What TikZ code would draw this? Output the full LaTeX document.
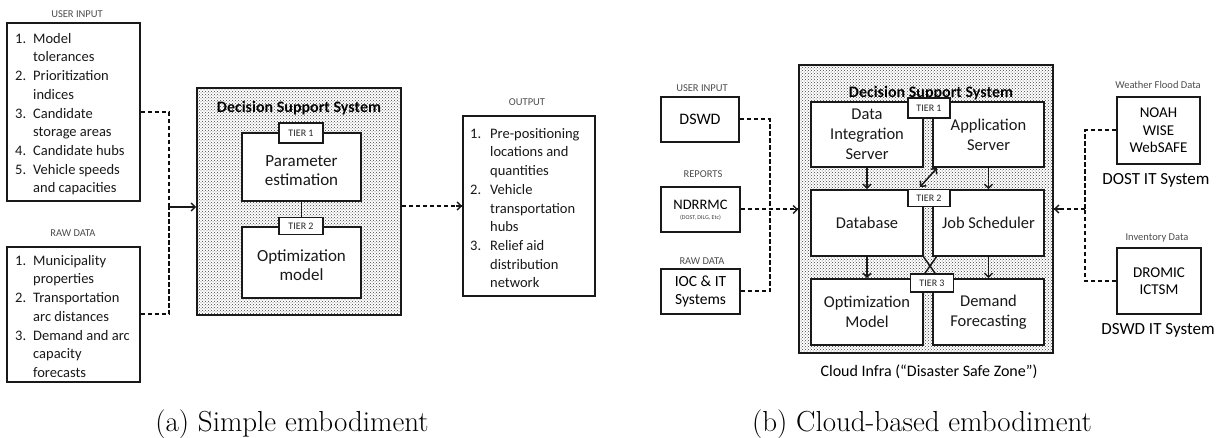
\documentclass[tikz,border=0pt]{standalone}
\usepackage{fontspec}
\newfontfamily\calfont{Carlito}
\usetikzlibrary{arrows.meta,patterns}
\newcommand\itm[2]{\makebox[18pt][l]{#1}#2}
\newcommand\cnt[1]{\hspace*{18pt}#1}
\newcommand\itmo[2]{\makebox[20pt][l]{#1}#2}
\newcommand\cnto[1]{\hspace*{20pt}#1}
\tikzset{
  box/.style={draw=black!90, line width=1.7pt, fill=white, inner sep=0pt},
  dssbox/.style={draw=black!90, line width=1.7pt, pattern=crosshatch dots, pattern color=black!75, inner sep=0pt},
  tierbox/.style={draw=black!90, line width=1.5pt, fill=white, inner sep=0pt, font=\calfont\fontsize{10}{12}\selectfont, text=black!85},
  lab/.style={font=\calfont\fontsize{10.5}{12}\selectfont, text=black!70, inner sep=0pt},
  listtxt/.style={font=\calfont\fontsize{14.5}{18.7}\selectfont, align=left, inner sep=0pt, text=black!90},
  midtxt/.style={font=\calfont\fontsize{17}{19}\selectfont, align=center, inner sep=0pt, text=black!90},
  boxtxt/.style={font=\calfont\fontsize{16.5}{20}\selectfont, align=center, text=black!90},
  dashline/.style={draw=black!95, line width=2pt, dash pattern=on 4.5pt off 2.5pt},
  arr/.style={draw=black!90, line width=1.5pt, -{Straight Barb[length=4pt,width=8pt,line width=1.5pt]}},
  dbarr/.style={draw=black!90, line width=1.5pt, {Straight Barb[length=4pt,width=8pt,line width=1.5pt]}-{Straight Barb[length=4pt,width=8pt,line width=1.5pt]}},
  xline/.style={draw=black!90, line width=1.5pt},
  captxt/.style={font=\fontsize{29}{33}\selectfont, inner sep=0pt, anchor=base}
}
\begin{document}
\begin{tikzpicture}[x=1pt,y=-1pt]
\useasboundingbox (0,0) rectangle (1218,438);
% ================= (a) =================
\node[lab] (lblUI) at (77,14) {USER INPUT};
\node[box, minimum width=133, minimum height=178] (ui) at (73.5,112) {};
\node[listtxt, anchor=north west] (uit) at (15,33) {\itm{1.}{Model}\\\cnt{tolerances}\\\itm{2.}{Prioritization}\\\cnt{indices}\\\itm{3.}{Candidate}\\\cnt{storage areas}\\\itm{4.}{Candidate hubs}\\\itm{5.}{Vehicle speeds}\\\cnt{and capacities}};
\node[lab] (lblRaw) at (73,233) {RAW DATA};
\node[box, minimum width=133, minimum height=135] (raw) at (73.5,314.5) {};
\node[listtxt, anchor=north west] (rawt) at (15,255) {\itm{1.}{Municipality}\\\cnt{properties}\\\itm{2.}{Transportation}\\\cnt{arc distances}\\\itm{3.}{Demand and arc}\\\cnt{capacity}\\\cnt{forecasts}};
\coordinate (jA) at (169,207);
\node[dssbox, minimum width=204, minimum height=227] (dssA) at (299,201.5) {};
\node[font=\calfont\bfseries\fontsize{16}{18}\selectfont, inner sep=0pt] (titA) at (299,108) {Decision Support System};
\node[box, minimum width=119, minimum height=68] (t1a) at (301.5,167) {};
\node[box, minimum width=119, minimum height=71] (t2a) at (301.5,262.5) {};
\node[midtxt] (t1at) at (301.5,171) {Parameter\\estimation};
\node[midtxt] (t2at) at (301.5,265) {Optimization\\model};
\draw[arr] (t1a.south) -- (t2a.north);
\node[tierbox, minimum width=44, minimum height=20] (tier1a) at (301,133) {TIER 1};
\node[tierbox, minimum width=44, minimum height=17] (tier2a) at (301,226) {TIER 2};
\draw[dashline] (ui.east) -| (jA);
\draw[dashline] (raw.east) -| (jA);
\draw[arr] (jA) -- (dssA.west |- jA);
\node[lab] (lblOut) at (527,102) {OUTPUT};
\node[box, minimum width=132, minimum height=180] (out) at (529,206) {};
\node[listtxt, anchor=north west] (outt) at (470,128) {\itmo{1.}{Pre-positioning}\\\cnto{locations and}\\\cnto{quantities}\\\itmo{2.}{Vehicle}\\\cnto{transportation}\\\cnto{hubs}\\\itmo{3.}{Relief aid}\\\cnto{distribution}\\\cnto{network}};
\draw[dashline] (dssA.east |- out.west) -- (out.west);
\draw[arr] ([xshift=-6pt]out.west) -- (out.west);
% ================= (b) =================
\node[lab] (lblUI2) at (702,88) {USER INPUT};
\node[box, minimum width=78, minimum height=45, font=\calfont\fontsize{16}{18}\selectfont] (dswd) at (700,119.5) {DSWD};
\node[lab] (lblRep) at (703,174) {REPORTS};
\node[box, minimum width=79, minimum height=45] (nd) at (700.5,209.5) {};
\node[font=\calfont\fontsize{14.5}{16}\selectfont, inner sep=0pt] (ndt) at (700.5,205) {NDRRMC};
\node[font=\calfont\fontsize{6}{7}\selectfont, inner sep=0pt, text=black!75] (ndt2) at (700.5,217.5) {(DOST, DILG, Etc)};
\node[lab] (lblRaw2) at (702,261) {RAW DATA};
\node[box, minimum width=79, minimum height=45, align=center, font=\calfont\fontsize{15.5}{18}\selectfont] (ioc) at (700.5,291.5) {IOC \& IT\\Systems};
\coordinate (jB) at (770,209);
\node[dssbox, minimum width=254, minimum height=288] (dssB) at (926,209) {};
\node[font=\calfont\bfseries\fontsize{16}{18}\selectfont, inner sep=0pt] (titB) at (931,93) {Decision Support System};
\node[box, boxtxt, minimum width=112, minimum height=65] (dis) at (867,134.5) {Data\\Integration\\Server};
\node[box, boxtxt, minimum width=111, minimum height=65] (app) at (988.5,134.5) {\raisebox{-3pt}{Application}\\\raisebox{-3pt}{Server}};
\node[box, boxtxt, minimum width=112, minimum height=66] (db) at (867,223) {\raisebox{-3pt}{Database}};
\node[box, boxtxt, minimum width=111, minimum height=66] (js) at (988.5,223) {\raisebox{-3pt}{Job Scheduler}};
\node[box, boxtxt, minimum width=112, minimum height=66] (opt) at (867,312) {\raisebox{-2pt}{Optimization}\\\raisebox{-2pt}{Model}};
\node[box, boxtxt, minimum width=111, minimum height=66] (dem) at (988.5,312) {\raisebox{-2pt}{Demand}\\\raisebox{-2pt}{Forecasting}};
\draw[arr] (dis.south) -- (db.north);
\draw[arr] (app.south) -- (js.north);
\draw[arr] (db.south) -- (opt.north);
\draw[arr] (js.south) -- (dem.north);
\coordinate (d1) at (920,187);
\coordinate (d2) at (937,168);
\draw[dbarr] (d1) -- (d2);
\coordinate (x1) at (923,256);
\coordinate (x2) at (937,276);
\coordinate (x3) at (937,256);
\coordinate (x4) at (923,276);
\draw[xline] (x1) -- (x2);
\draw[xline] (x3) -- (x4);
\node[tierbox, minimum width=42, minimum height=20] (tier1b) at (929,108) {TIER 1};
\node[tierbox, minimum width=42, minimum height=17] (tier2b) at (929,198) {TIER 2};
\node[tierbox, minimum width=43, minimum height=18] (tier3b) at (932,283) {TIER 3};
\node[font=\calfont\fontsize{16}{18}\selectfont, inner sep=0pt] (cloud) at (929,372) {Cloud Infra (“Disaster Safe Zone”)};
\draw[dashline] (dswd.east) -| (jB);
\draw[dashline] (ioc.east) -| (jB);
\draw[dashline] (nd.east) -- (dssB.west |- nd.east);
\draw[arr] ([xshift=-6pt]dssB.west |- nd.east) -- (dssB.west |- nd.east);
\node[lab] (lblW) at (1158,85) {Weather Flood Data};
\node[box, minimum width=83, minimum height=67, align=center, font=\calfont\fontsize{15}{17.5}\selectfont] (noah) at (1158.5,130.5) {NOAH\\WISE\\WebSAFE};
\node[font=\calfont\fontsize{17}{19}\selectfont, inner sep=0pt] (dost) at (1156,180) {DOST IT System};
\node[lab] (lblInv) at (1157,238) {Inventory Data};
\node[box, minimum width=84, minimum height=66, align=center, font=\calfont\fontsize{15}{17.5}\selectfont] (dromic) at (1159,281) {DROMIC\\ICTSM};
\node[font=\calfont\fontsize{17}{19}\selectfont, inner sep=0pt] (dswdit) at (1158,330) {DSWD IT System};
\coordinate (jC) at (1085,209);
\draw[dashline] (noah.west) -| (jC);
\draw[dashline] (dromic.west) -| (jC);
\draw[dashline] (jC) -- (dssB.east |- jC);
\draw[arr] ([xshift=6pt]dssB.east |- jC) -- (dssB.east |- jC);
% captions
\node[captxt] (capA) at (292,431) {(a) Simple embodiment};
\node[captxt] (capB) at (922,431) {(b) Cloud-based embodiment};
\end{tikzpicture}
\end{document}
